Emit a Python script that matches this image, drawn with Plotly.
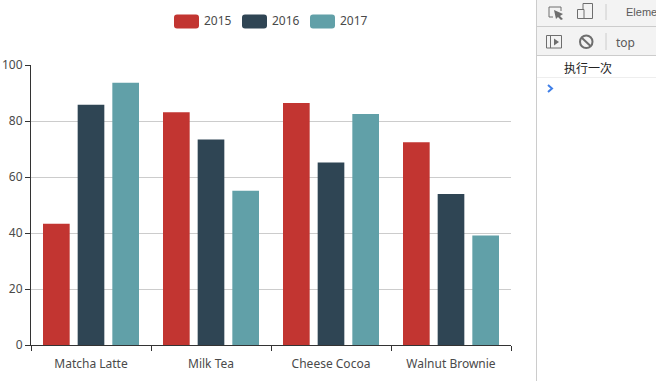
import plotly.graph_objects as go

categories = ["Matcha Latte", "Milk Tea", "Cheese Cocoa", "Walnut Brownie"]
series_names = ["2015", "2016", "2017"]
values_2015 = [43.3, 83.1, 86.4, 72.4]
values_2016 = [85.8, 73.4, 65.2, 53.9]
values_2017 = [93.7, 55.1, 82.5, 39.1]
colors = ["#c23531", "#2f4554", "#61a0a8"]

W, H = 656, 381
L, R, T, B = 31, 511, 65, 345
FONT = "Noto Sans, Open Sans, sans-serif"
CJK = "Noto Sans CJK SC"

fig = go.Figure()
for name, vals, c in zip(series_names, [values_2015, values_2016, values_2017], colors):
    fig.add_bar(x=categories, y=vals, name=name, marker=dict(color=c, line_width=0), showlegend=False)


def px(x):
    return (x - L) / (R - L)


def py(y):
    return (B - y) / (B - T)


def rrect(x0, y0, x1, y1, r):
    X0, X1 = px(x0), px(x1)
    Y0, Y1 = py(y0), py(y1)
    rx, ry = r / (R - L), r / (B - T)
    return (f"M{X0+rx},{Y0} L{X1-rx},{Y0} Q{X1},{Y0} {X1},{Y0-ry} L{X1},{Y1+ry} Q{X1},{Y1} {X1-rx},{Y1} "
            f"L{X0+rx},{Y1} Q{X0},{Y1} {X0},{Y1+ry} L{X0},{Y0-ry} Q{X0},{Y0} {X0+rx},{Y0} Z")


shapes = []
annotations = []


def text(x, y, s, size=12, color="#4a4a4a", font=FONT, anchor="left"):
    annotations.append(dict(x=px(x), y=py(y), xref="paper", yref="paper", text=s, showarrow=False,
                            xanchor=anchor, yanchor="middle", borderpad=0, borderwidth=0,
                            font=dict(size=size, color=color, family=font)))


def rect(x0, y0, x1, y1, fill="rgba(0,0,0,0)", line=None, lw=1):
    shapes.append(dict(type="rect", xref="paper", yref="paper", x0=px(x0), x1=px(x1), y0=py(y0), y1=py(y1),
                       fillcolor=fill, line=dict(color=line or "rgba(0,0,0,0)", width=lw if line else 0)))


def seg(x0, y0, x1, y1, color="#555", lw=1):
    shapes.append(dict(type="line", xref="paper", yref="paper", x0=px(x0), x1=px(x1), y0=py(y0), y1=py(y1),
                       line=dict(color=color, width=lw)))


# legend
for x0, name, c in zip([174, 242, 310], series_names, colors):
    shapes.append(dict(type="path", xref="paper", yref="paper", path=rrect(x0, 14.5, x0 + 25, 28.5, 3),
                       fillcolor=c, line_width=0))
    text(x0 + 30, 21, name)

# devtools panel
rect(536, 0, 656, 381, fill="#ffffff")
rect(537, 0, 656, 55, fill="#f3f3f3")
seg(536.5, 0, 536.5, 381, "#cccccc")
seg(537, 26.5, 656, 26.5, "#cccccc")
seg(537, 55.5, 656, 55.5, "#cccccc")
seg(537, 77.5, 656, 77.5, "#eeeeee")
seg(606, 4, 606, 20, "#cccccc")
seg(606, 33, 606, 50, "#cccccc")
# inspect icon
seg(549, 7, 561, 7, "#6e6e6e"); seg(549, 7, 549, 17, "#6e6e6e"); seg(549, 17, 553, 17, "#6e6e6e"); seg(561, 7, 561, 11, "#6e6e6e")
shapes.append(dict(type="path", xref="paper", yref="paper", fillcolor="#6e6e6e", line_width=0,
                   path=f"M{px(554)},{py(10)} L{px(563)},{py(14)} L{px(560)},{py(16)} L{px(563)},{py(19)} L{px(561)},{py(20)} L{px(558)},{py(17)} L{px(556)},{py(19)} Z"))
# device icon
rect(583, 3.5, 592.5, 18.5, line="#6e6e6e", lw=1)
rect(577.5, 9.5, 584, 18.5, fill="#f3f3f3", line="#6e6e6e", lw=1)
# sidebar icon
rect(546.5, 35.5, 561.5, 48, line="#6e6e6e", lw=1)
seg(550.5, 35.5, 550.5, 48, "#6e6e6e")
shapes.append(dict(type="path", xref="paper", yref="paper", fillcolor="#6e6e6e", line_width=0,
                   path=f"M{px(554)},{py(38.5)} L{px(559)},{py(42)} L{px(554)},{py(45.5)} Z"))
# clear icon
shapes.append(dict(type="circle", xref="paper", yref="paper", x0=px(580), x1=px(592.5), y0=py(48), y1=py(35.5),
                   line=dict(color="#6e6e6e", width=2)))
seg(582, 38, 590.5, 46, "#6e6e6e", 2)
text(626, 12, "Eleme", size=11, color="#5a5a5a", font="Liberation Sans")
text(616, 42, "top", size=12, color="#5a5a5a")
text(564, 68, "执行一次", size=12, color="#222222", font=CJK)
# prompt chevron
shapes.append(dict(type="path", xref="paper", yref="paper", line=dict(color="#3f7fe8", width=2),
                   path=f"M{px(548)},{py(85)} L{px(552)},{py(88.5)} L{px(548)},{py(92)}"))

fig.update_layout(
    width=W, height=H, autosize=False,
    margin=dict(l=L, r=W - R, t=T, b=H - B, pad=0, autoexpand=False),
    paper_bgcolor="#ffffff", plot_bgcolor="#ffffff",
    barmode="group", bargap=0.1333, bargroupgap=0.2308,
    font=dict(family=FONT, size=12, color="#333"),
    shapes=shapes, annotations=annotations,
    xaxis=dict(type="category", tickson="boundaries", ticks="outside", ticklen=5, tickcolor="#333", tickwidth=1,
               showline=True, linecolor="#333", linewidth=1, showgrid=False, automargin=False,
               ticklabelstandoff=8, tickfont=dict(size=12, color="#4a4a4a")),
    yaxis=dict(range=[0, 100], tick0=0, dtick=20, ticks="outside", ticklen=5, tickcolor="#333", tickwidth=1,
               showline=True, linecolor="#333", linewidth=1, showgrid=True, gridcolor="#cccccc", gridwidth=1,
               zeroline=False, automargin=False, tickfont=dict(size=12, color="#4a4a4a")),
)
fig.write_html("out.html", config={"displayModeBar": False},
               post_script="document.body.style.margin='0';document.body.style.overflow='hidden';")
